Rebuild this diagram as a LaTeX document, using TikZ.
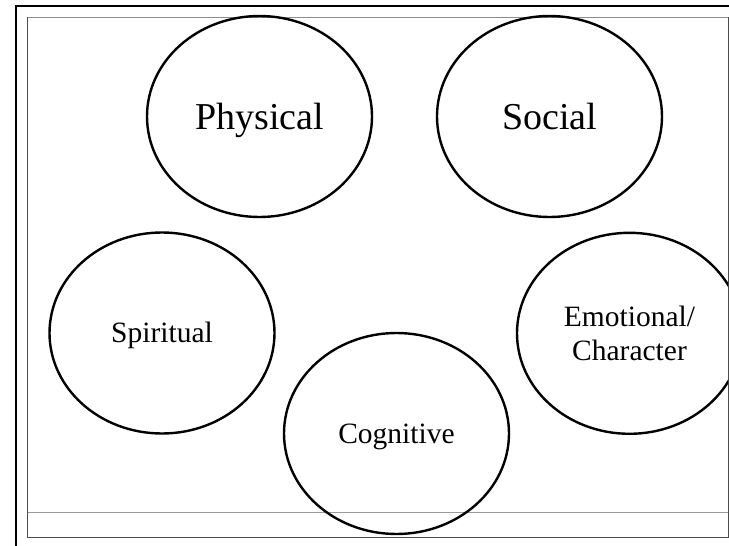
\documentclass[tikz,border=0pt]{standalone}
\usepackage{fontspec}
\setmainfont{Liberation Serif}
\usetikzlibrary{shapes.geometric}
\begin{document}
\begin{tikzpicture}
    [x=1pt,y=-1pt,
     bubble/.style={ellipse,draw,line width=2.4pt,inner sep=0pt,
       minimum width=225pt,minimum height=201pt,align=center},
     big/.style={font=\fontsize{38}{42}\selectfont,text height=25pt,text depth=0pt},
     small/.style={font=\fontsize{29.5}{34}\selectfont},
     oneline/.style={text height=19.5pt,text depth=0pt}]
    \useasboundingbox (0,0) rectangle (729,546);
    % slide frame
    \draw[line width=2.4pt] (16,546) -- (16,6) -- (729,6);
    \draw[black!45,line width=1pt] (27,17) -- (728,17);
    \draw[black!40,line width=1pt] (27,512) -- (728,512);
    \draw[black!70,line width=1pt] (27,17) -- (27,537) -- (728,537) -- (728,17);
    \begin{scope}
    \clip (0,0) rectangle (728,546);
    \node[bubble,big](phys) at (259.5,116.5){Physical};
    \node[bubble,big](soc) at (549.5,116.5){Social};
    \node[bubble,small,oneline](spir) at (162,333){Spiritual};
    \node[bubble,small,oneline](cog) at (396.5,433.5){Cognitive};
    \node[bubble,small](emo) at (629.5,333.3){Emotional/\\Character};
    \end{scope}
\end{tikzpicture}
\end{document}
